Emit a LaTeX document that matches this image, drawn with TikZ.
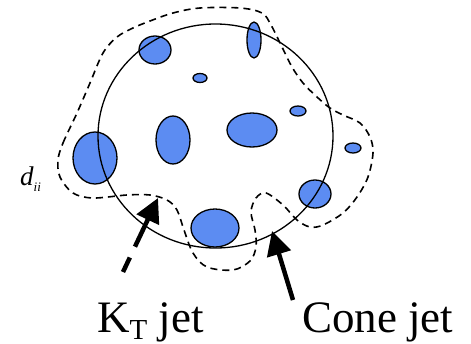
\documentclass[tikz,border=0pt]{standalone}
\usepackage{fontspec}
\setmainfont{Liberation Serif}
\usetikzlibrary{arrows.meta}
\definecolor{blob}{RGB}{92,140,242}
\tikzset{
  parton/.style={draw=black,line width=1.3pt,fill=blob},
  conering/.style={line width=1.3pt},
  ktedge/.style={dash pattern=on 7pt off 5pt,line width=1.6pt},
  jetlabel/.style={font=\fontsize{45}{50}\selectfont,inner sep=0pt,anchor=base west},
  pointer/.style={line width=4.5pt,-{Triangle[length=24pt,width=24pt]}},
}
\begin{document}
\begin{tikzpicture}[x=1pt,y=-1pt]
  \useasboundingbox (0,0) rectangle (471,343);
  % particles
  \foreach \px/\py/\rx/\ry in {155/50/16/14, 254/40/7/18, 200/78/7/4.5, 298/111/8/5,
      173/140/17/24, 252/130/25/17, 353/148/8/5, 95/158/22/26, 315/194/16/14, 215/228/24/19}
    \draw[parton] (\px,\py) ellipse[x radius=\rx,y radius=\ry];
  % cone
  \draw[conering] (215.5,136) ellipse[x radius=117.5,y radius=112];
  % kt jet outline
  \draw[ktedge] plot[smooth cycle,tension=0.55] coordinates {
    (58,160) (63,143) (77,113) (90,83) (103,53) (117,37) (133,28) (150,21)
    (173,13) (200,8) (240,8) (262,13) (271,25) (282,47) (292,67) (303,83)
    (317,97) (330,108) (343,115) (360,123) (370,137) (373,153) (368,177)
    (357,197) (343,213) (323,225) (310,227) (297,220) (283,205) (266,193)
    (256,198) (251,212) (255,230) (256,247) (250,261) (233,270) (207,267)
    (193,253) (184,230) (177,210) (167,200) (150,195) (127,195) (93,198)
    (73,193) (60,177)};
  \node[font=\fontsize{27}{30}\selectfont\itshape,inner sep=0pt,anchor=base west] (dii) at (20,185)
    {d\raisebox{-6pt}{\fontsize{13}{15}\selectfont ii}};
  \node[jetlabel] (kt) at (97,332) {K\raisebox{-7pt}{\fontsize{29}{32}\selectfont T} jet};
  \node[jetlabel] (cone) at (302,332) {Cone jet};
  \coordinate (kttail) at (123,272);
  \coordinate (kttip) at (158,198);
  \coordinate (conetail) at (293,300);
  \coordinate (conetip) at (272,231);
  \draw[pointer,dash pattern=on 16pt off 12pt on 80pt] (kttail) -- (kttip);
  \draw[pointer] (conetail) -- (conetip);
\end{tikzpicture}
\end{document}
